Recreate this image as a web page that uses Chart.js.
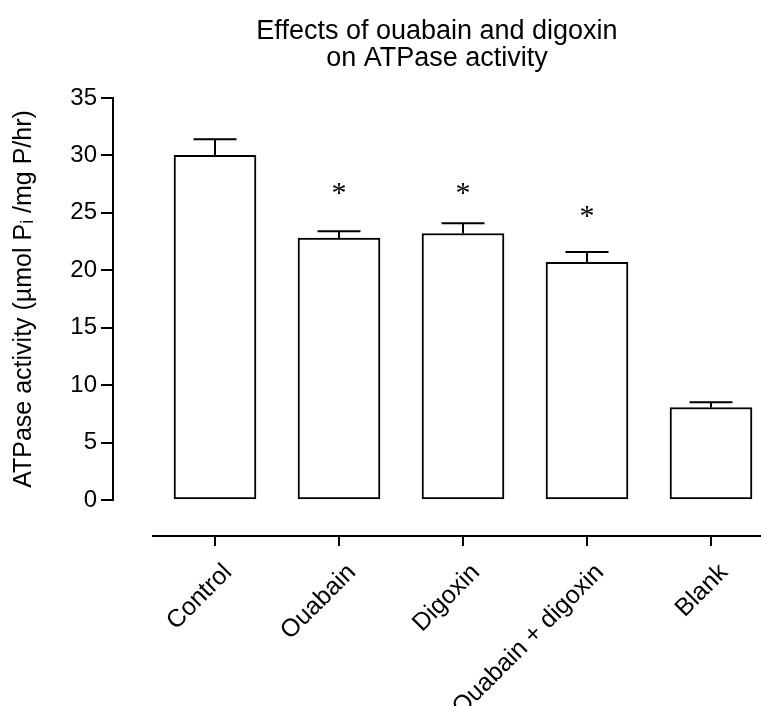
<!DOCTYPE html>
<html>
<head>
<meta charset="utf-8">
<title>ATPase activity</title>
<script src="https://cdn.jsdelivr.net/npm/chart.js@4.4.0/dist/chart.umd.min.js"></script>
<style>
    html, body { margin: 0; padding: 0; background: #fff; }
</style>
</head>
<body>
<canvas id="myChart" width="761" height="706"></canvas>
<script>
// data
const categories = ['Control', 'Ouabain', 'Digoxin', 'Ouabain + digoxin', 'Blank'];
const activity = [30.0, 22.8, 23.2, 20.7, 8.05];
const errorUpper = [1.4, 0.6, 0.9, 0.9, 0.45];
const significance = ['', '*', '*', '*', ''];
const starLevel = [null, 27, 27, 25, null];
const yTicks = [0, 5, 10, 15, 20, 25, 30, 35];

const FONT = 'Liberation Sans, Arial, Helvetica, sans-serif';

// error bars, asterisks and the detached x axis (Prism style)
const prismExtras = {
    id: 'prismExtras',
    afterDatasetsDraw(chart) {
        const ctx = chart.ctx;
        const xs = chart.scales.x;
        const ys = chart.scales.y;
        ctx.save();
        ctx.strokeStyle = '#000';
        ctx.lineWidth = 2;
        activity.forEach((v, i) => {
            const x = xs.getPixelForValue(i);
            const yTop = ys.getPixelForValue(v);
            const yErr = ys.getPixelForValue(v + errorUpper[i]);
            ctx.beginPath();
            ctx.moveTo(x, yTop);
            ctx.lineTo(x, yErr);
            ctx.moveTo(x - 21.5, yErr);
            ctx.lineTo(x + 21.5, yErr);
            ctx.stroke();
            if (significance[i]) {
                ctx.fillStyle = '#000';
                ctx.font = '30px "Liberation Serif", "Times New Roman", serif';
                ctx.textAlign = 'center';
                ctx.textBaseline = 'middle';
                ctx.fillText(significance[i], x, ys.getPixelForValue(starLevel[i]) + 4);
            }
        });
        // x axis line sits below the zero line
        const yAxis = chart.chartArea.bottom + 36;
        ctx.beginPath();
        ctx.moveTo(152, yAxis);
        ctx.lineTo(chart.width, yAxis);
        categories.forEach((c, i) => {
            const x = xs.getPixelForValue(i);
            ctx.moveTo(x, yAxis);
            ctx.lineTo(x, yAxis + 10);
        });
        ctx.stroke();
        ctx.restore();
    }
};

const data = {
    datasets: [{
        data: activity.map((v, i) => ({x: i, y: v})),
        backgroundColor: '#fff',
        borderColor: '#000',
        borderWidth: 2,
        borderSkipped: false,
        barThickness: 82,
    }]
};

const config = {
    type: 'bar',
    data: data,
    options: {
        responsive: false,
        devicePixelRatio: 1,
        animation: false,
        layout: { padding: 0 },
        plugins: {
            legend: { display: false },
            tooltip: { enabled: false },
            title: {
                display: true,
                fullSize: false,
                text: ['Effects of ouabain and digoxin', 'on ATPase activity'],
                color: '#000',
                font: { family: FONT, size: 27, weight: 'normal', lineHeight: 1.0 },
                padding: { top: 18, bottom: 26 },
            },
        },
        scales: {
            x: {
                type: 'linear',
                offset: false,
                min: -(215 - 113) / 124,
                max: (761 - 215) / 124,
                grid: { display: false, drawTicks: false },
                border: { display: false },
                ticks: {
                    stepSize: 1,
                    includeBounds: false,
                    autoSkip: false,
                    maxRotation: 45,
                    minRotation: 45,
                    padding: 58,
                    labelOffset: 13,
                    color: '#000',
                    font: { family: FONT, size: 25 },
                    callback: (v) => Number.isInteger(v) && categories[v] ? categories[v] : '',
                },
                afterFit: (scale) => {
                    scale.height = 206;
                    scale.paddingLeft = 0;
                    scale.paddingRight = 0;
                },
            },
            y: {
                min: 0,
                max: 35,
                afterBuildTicks: (scale) => { scale.ticks = yTicks.map(v => ({value: v})); },
                grid: { drawOnChartArea: false, drawTicks: true, tickLength: 12, color: '#000', lineWidth: 2 },
                border: { display: true, color: '#000', width: 2 },
                ticks: {
                    padding: 4,
                    color: '#000',
                    font: { family: FONT, size: 24 },
                },
                title: {
                    display: true,
                    text: 'ATPase activity (µmol Pᵢ /mg P/hr)',
                    color: '#000',
                    font: { family: FONT, size: 25 },
                    padding: { top: 9, bottom: 0 },
                },
                afterFit: (scale) => { scale.width = 113; },
            },
        },
    },
    plugins: [prismExtras],
};

const myChart = new Chart(document.getElementById('myChart'), config);
</script>
</body>
</html>
